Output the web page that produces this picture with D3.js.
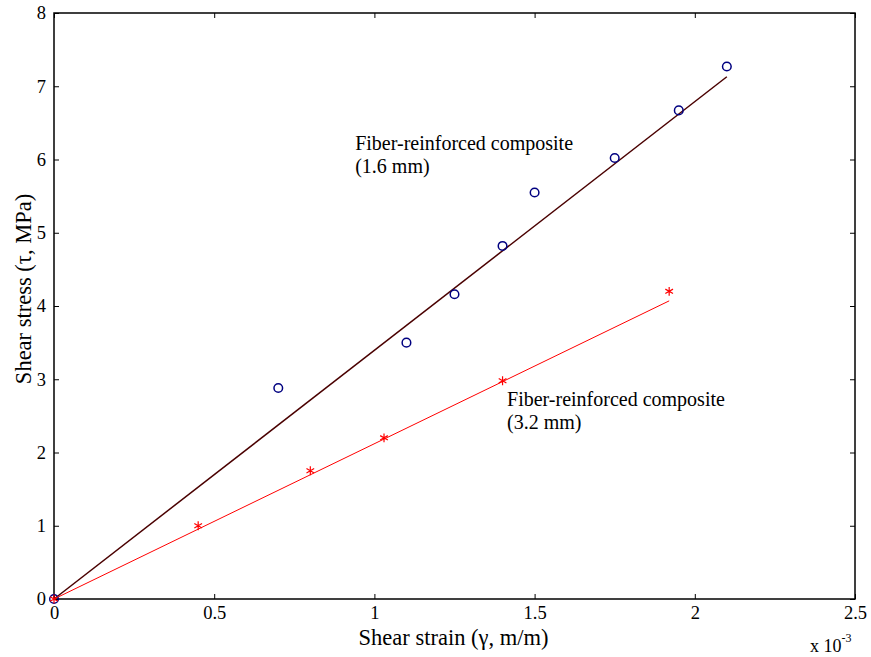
<!DOCTYPE html>
<html>
<head>
<meta charset="utf-8">
<script src="https://cdn.jsdelivr.net/npm/d3@7"></script>
<style>
body{margin:0;background:#fff;}
svg{display:block;}
svg text{font-family:"Times New Roman","Liberation Serif","DejaVu Serif",serif !important;}
</style>
</head>
<body>
<svg id="chart" width="871" height="657"></svg>
<script>
// data (strain in units of 1e-3)
const thinStrain = [0, 0.7, 1.1, 1.25, 1.4, 1.5, 1.75, 1.95, 2.1];
const thinStress = [0, 2.88, 3.5, 4.16, 4.82, 5.55, 6.02, 6.67, 7.27];
const thinFitX = [0, 2.1];
const thinFitY = [0, 7.13];
const thickStrain = [0, 0.45, 0.8, 1.03, 1.4, 1.92];
const thickStress = [0, 1.0, 1.75, 2.2, 2.98, 4.2];
const thickFitX = [0, 1.92];
const thickFitY = [0, 4.07];
const xTicks = [0, 0.5, 1, 1.5, 2, 2.5];
const yTicks = [0, 1, 2, 3, 4, 5, 6, 7, 8];
const labels = [
  {x: 0.94, y: 6.13, lines: ["Fiber-reinforced composite", "(1.6 mm)"]},
  {x: 1.414, y: 2.63, lines: ["Fiber-reinforced composite", "(3.2 mm)"]}
];

const svg = d3.select("#chart");
const L = 54, R = 855, T = 13, B = 599;
const x = d3.scaleLinear().domain([0, 2.5]).range([L, R]);
const y = d3.scaleLinear().domain([0, 8]).range([B, T]);

// axes (ticks inward)
const tl = 5;
svg.append("g").attr("transform", `translate(0,${B})`)
  .call(d3.axisBottom(x).tickValues(xTicks).tickSizeInner(-tl).tickSizeOuter(0).tickPadding(7).tickFormat(d3.format("")))
  .call(g => g.select(".domain").remove())
  .call(g => g.selectAll("text").attr("font-size", 18.5).attr("fill", "#000"));
svg.append("g").attr("transform", `translate(${L},0)`)
  .call(d3.axisLeft(y).tickValues(yTicks).tickSizeInner(-tl).tickSizeOuter(0).tickPadding(8).tickFormat(d3.format("")))
  .call(g => g.select(".domain").remove())
  .call(g => g.selectAll("text").attr("font-size", 18.5).attr("fill", "#000"));
svg.append("g").attr("transform", `translate(0,${T})`)
  .call(d3.axisTop(x).tickValues(xTicks).tickSizeInner(-tl).tickSizeOuter(0).tickFormat(""))
  .call(g => g.select(".domain").remove());
svg.append("g").attr("transform", `translate(${R},0)`)
  .call(d3.axisRight(y).tickValues(yTicks).tickSizeInner(-tl).tickSizeOuter(0).tickFormat(""))
  .call(g => g.select(".domain").remove());
svg.append("rect").attr("x", L).attr("y", T).attr("width", R - L).attr("height", B - T)
  .attr("fill", "none").attr("stroke", "#000").attr("stroke-width", 1.5);

const line = d3.line().x(d => x(d[0])).y(d => y(d[1]));

// fit lines
svg.append("path").datum(d3.zip(thinFitX, thinFitY)).attr("d", line)
  .attr("stroke", "#4a0000").attr("stroke-width", 1.5).attr("fill", "none");
svg.append("path").datum(d3.zip(thickFitX, thickFitY)).attr("d", line)
  .attr("stroke", "#ff0000").attr("stroke-width", 1).attr("fill", "none");

// circles
svg.append("g").selectAll("circle").data(d3.zip(thinStrain, thinStress)).join("circle")
  .attr("cx", d => x(d[0])).attr("cy", d => y(d[1])).attr("r", 4.3)
  .attr("fill", "none").attr("stroke", "#000080").attr("stroke-width", 1.5);

// asterisks
const star = d3.symbol().type(d3.symbolAsterisk).size(55);
svg.append("g").selectAll("path").data(d3.zip(thickStrain, thickStress)).join("path")
  .attr("transform", d => `translate(${x(d[0])},${y(d[1])})`)
  .attr("d", star).attr("fill", "none").attr("stroke", "#ff0000").attr("stroke-width", 1.2);

// annotations
labels.forEach(l => {
  const t = svg.append("text").attr("x", x(l.x)).attr("y", y(l.y))
    .attr("font-size", 20).attr("fill", "#000");
  l.lines.forEach((s, i) => t.append("tspan").attr("x", x(l.x)).attr("dy", i ? 23 : 0).text(s));
});

// axis labels
svg.append("text").attr("x", (L + R) / 2 - 1).attr("y", 645).attr("text-anchor", "middle")
  .attr("font-size", 22.5).text("Shear strain (γ, m/m)");
svg.append("text").attr("transform", `translate(31,289) rotate(-90)`).attr("text-anchor", "middle")
  .attr("font-size", 22.5).text("Shear stress (τ, MPa)");

// exponent
const ex = svg.append("text").attr("x", 810).attr("y", 652).attr("font-size", 18);
ex.append("tspan").text("x 10");
ex.append("tspan").attr("dy", -10).attr("font-size", 12).text("-3");
</script>
</body>
</html>
